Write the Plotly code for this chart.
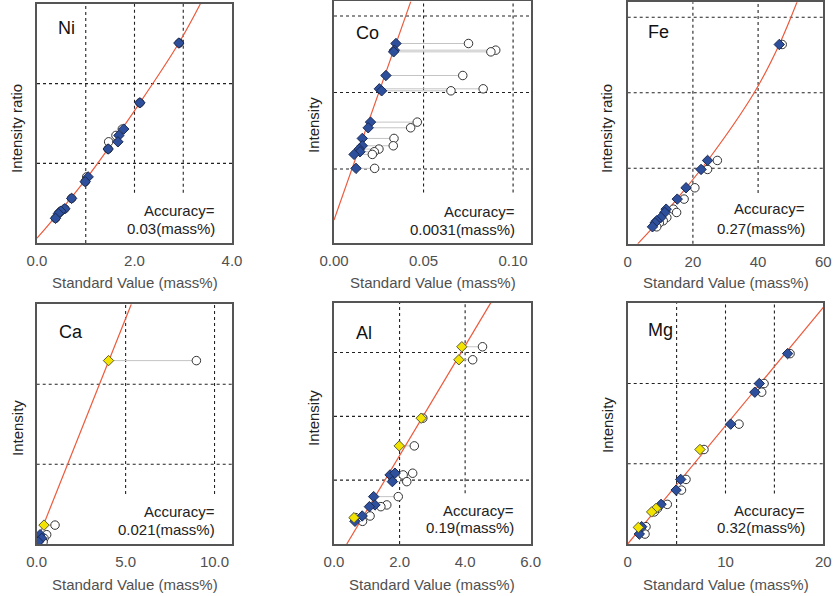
import plotly.graph_objects as go

W, H = 833, 596
FONT = "Arial, 'Liberation Sans', Helvetica, sans-serif"

# ---------------- data ----------------
# Ni
ni_corrected   = [2.91, 2.11, 1.78, 1.68, 1.66, 1.46, 1.05, 0.99, 0.71, 0.57, 0.49, 0.44, 0.38]
ni_uncorrected = [2.92, 2.11, 1.75, 1.62, 1.47, 1.46, 1.02, 0.99, 0.71, 0.57, 0.49, 0.44, 0.38]
ni_intensity   = [2.51, 1.76, 1.43, 1.35, 1.27, 1.18, 0.83, 0.77, 0.56, 0.43, 0.40, 0.37, 0.31]
ni_kind        = ["B"] * 13
ni_curve_x     = [0.0, 1.0, 2.11, 2.91, 3.35]
ni_curve_y     = [0.06, 0.80, 1.76, 2.51, 3.0]
ni_ticks       = [0, 2, 4]
ni_ticktext    = ["0.0", "2.0", "4.0"]
ni_accuracy    = "0.03(mass%)"

# Co
co_corrected   = [0.0346, 0.0337, 0.0333, 0.0290, 0.0253, 0.0266, 0.0204, 0.0191, 0.0158, 0.0158, 0.0141, 0.0145, 0.0112, 0.0123]
co_uncorrected = [0.0751, 0.0903, 0.0876, 0.0719, 0.0833, 0.0653, 0.0465, 0.0428, 0.0335, 0.0331, 0.0251, 0.0225, 0.0214, 0.0227]
co_intensity   = [2.640, 2.553, 2.531, 2.222, 2.048, 2.022, 1.613, 1.539, 1.400, 1.304, 1.261, 1.226, 1.191, 1.009]
co_kind        = ["B"] * 14
co_curve_x     = [0.0, 0.0429]
co_curve_y     = [0.335, 3.19]
co_ticks       = [0, 0.05, 0.10]
co_ticktext    = ["0.00", "0.05", "0.10"]
co_accuracy    = "0.0031(mass%)"

# Fe
fe_corrected   = [46.5, 24.5, 22.5, 17.9, 15.2, 11.8, 11.4, 10.2, 8.9, 8.4, 7.6]
fe_uncorrected = [47.4, 27.5, 24.5, 20.6, 17.3, 14.0, 15.0, 12.0, 10.9, 9.7, 8.9]
fe_intensity   = [2.64, 1.104, 0.985, 0.742, 0.592, 0.459, 0.415, 0.349, 0.305, 0.278, 0.225]
fe_kind        = ["B"] * 11
fe_curve_x     = [3.07, 7.4, 15.0, 24.5, 38.8, 46.5, 52.1]
fe_curve_y     = [0.0, 0.20, 0.59, 1.10, 2.0, 2.64, 3.22]
fe_ticks       = [0, 20, 40, 60]
fe_ticktext    = ["0", "20", "40", "60"]
fe_accuracy    = "0.27(mass%)"

# Ca
ca_corrected   = [4.04, 0.41, 0.19, 0.28, 0.09]
ca_uncorrected = [8.98, 1.03, 0.56, 0.41, 0.36]
ca_intensity   = [2.296, 0.24, 0.12, 0.075, 0.03]
ca_kind        = ["Y", "Y", "B", "B", "B"]
ca_curve_x     = [0.0, 5.32]
ca_curve_y     = [0.03, 3.0]
ca_ticks       = [0, 5, 10]
ca_ticktext    = ["0.0", "5.0", "10.0"]
ca_accuracy    = "0.021(mass%)"

# Al
al_corrected   = [3.90, 3.81, 2.66, 1.99, 0.61, 1.71, 1.86, 1.78, 1.21, 1.25, 1.08, 0.86, 0.64]
al_uncorrected = [4.53, 4.23, 2.71, 2.45, 0.66, 2.11, 2.40, 2.22, 1.96, 1.61, 1.43, 1.10, 0.87]
al_intensity   = [3.09, 2.886, 1.971, 1.537, 0.413, 1.082, 1.109, 0.977, 0.742, 0.612, 0.585, 0.439, 0.355]
al_kind        = ["Y"] * 5 + ["B"] * 8
al_curve_x     = [0.39, 4.79]
al_curve_y     = [0.0, 3.785]
al_ticks       = [0, 2, 4, 6]
al_ticktext    = ["0.0", "2.0", "4.0", "6.0"]
al_accuracy    = "0.19(mass%)"

# Mg
mg_corrected   = [16.35, 13.46, 13.0, 10.53, 5.42, 4.95, 3.41, 1.43, 1.19, 7.39, 2.90, 2.45, 1.09]
mg_uncorrected = [16.6, 13.94, 13.7, 11.38, 5.96, 5.50, 4.05, 1.87, 1.77, 7.80, 3.05, 2.72, 1.40]
mg_intensity   = [2.373, 2.0, 1.892, 1.494, 0.805, 0.672, 0.494, 0.216, 0.124, 1.178, 0.444, 0.40, 0.207]
mg_kind        = ["B"] * 9 + ["Y"] * 4
mg_curve_x     = [0.0, 20.0]
mg_curve_y     = [0.0, 2.95]
mg_ticks       = [0, 10, 20]
mg_ticktext    = ["0", "10", "20"]
mg_accuracy    = "0.32(mass%)"

# ---------------- layout description (pixel positions) ----------------
panels = [
    dict(name="Ni", corr=ni_corrected, unc=ni_uncorrected, inten=ni_intensity, kind=ni_kind,
         cx=ni_curve_x, cy=ni_curve_y, spline=True, box=(37, 232, 4, 243),
         xr=[0, 4], yr=[0, 3], tv=ni_ticks, tt=ni_ticktext, vfull=[1], vpart=[2, 3], hgrid=[1, 2],
         acc=ni_accuracy, ytitle="Intensity ratio", ytpos=(17, 129), lab=(56, 28), accpos=(217, 210, 228), xty=282),
    dict(name="Co", corr=co_corrected, unc=co_uncorrected, inten=co_intensity, kind=co_kind,
         cx=co_curve_x, cy=co_curve_y, spline=False, box=(334, 531, 1.4, 243.3),
         xr=[0, 0.11], yr=[0.03, 3.19], tv=co_ticks, tt=co_ticktext, vfull=[], vpart=[0.05, 0.10], hgrid=[1, 2, 3],
         acc=co_accuracy, ytitle="Intensity", ytpos=(313, 125), lab=(354, 33), accpos=(517, 211, 229), xty=282),
    dict(name="Fe", corr=fe_corrected, unc=fe_uncorrected, inten=fe_intensity, kind=fe_kind,
         cx=fe_curve_x, cy=fe_curve_y, spline=True, box=(627.7, 823.3, 2.2, 243.8),
         xr=[0, 60], yr=[0, 3.2], tv=fe_ticks, tt=fe_ticktext, vfull=[20], vpart=[40], hgrid=[1, 2, 3],
         acc=fe_accuracy, ytitle="Intensity ratio", ytpos=(607, 129), lab=(646, 32), accpos=(807, 209, 228), xty=282),
    dict(name="Ca", corr=ca_corrected, unc=ca_uncorrected, inten=ca_intensity, kind=ca_kind,
         cx=ca_curve_x, cy=ca_curve_y, spline=False, box=(36.7, 232.3, 304.3, 544.3),
         xr=[0, 11], yr=[0, 3], tv=ca_ticks, tt=ca_ticktext, vfull=[], vpart=[5, 10], hgrid=[1, 2],
         acc=ca_accuracy, ytitle="Intensity", ytpos=(17, 428), lab=(57, 332), accpos=(217, 511, 529), xty=584),
    dict(name="Al", corr=al_corrected, unc=al_uncorrected, inten=al_intensity, kind=al_kind,
         cx=al_curve_x, cy=al_curve_y, spline=False, box=(334, 530.7, 302.7, 544),
         xr=[0, 6], yr=[0, 3.78], tv=al_ticks, tt=al_ticktext, vfull=[2], vpart=[4], hgrid=[1, 2, 3],
         acc=al_accuracy, ytitle="Intensity", ytpos=(313, 418), lab=(354, 333), accpos=(516, 510, 527), xty=584),
    dict(name="Mg", corr=mg_corrected, unc=mg_uncorrected, inten=mg_intensity, kind=mg_kind,
         cx=mg_curve_x, cy=mg_curve_y, spline=False, box=(627.7, 823.3, 303.3, 544),
         xr=[0, 20], yr=[0, 3], tv=mg_ticks, tt=mg_ticktext, vfull=[5], vpart=[10, 15], hgrid=[1, 2],
         acc=mg_accuracy, ytitle="Intensity", ytpos=(607, 425), lab=(646, 330), accpos=(807, 510, 527), xty=584),
]

def px2x(px):
    return px / W

def px2y(py):
    return 1 - py / H

BLUE = "#2d4f9c"
BLUE_LINE = "#1b2b55"
YELLOW = "#f3e300"
YELLOW_LINE = "#5a5a30"
RED = "#ec5a3c"
GRID = "#222222"
FRAME = "#555555"

fig = go.Figure()
shapes = []
annotations = []
layout = {}

for i, p in enumerate(panels):
    sx = "" if i == 0 else str(i + 1)
    xa, ya = "x" + sx, "y" + sx
    L, R, T, B = p["box"]

    layout["xaxis" + sx] = dict(
        domain=[px2x(L), px2x(R)], range=p["xr"], anchor=ya, automargin=False,
        tickvals=p["tv"], ticktext=p["tt"], ticks="outside", ticklen=3,
        tickcolor="rgba(0,0,0,0)", tickfont=dict(family=FONT, size=15, color="#505050"),
        showgrid=False, zeroline=False, showline=True, mirror=True,
        linecolor=FRAME, linewidth=1.5, fixedrange=True)
    layout["yaxis" + sx] = dict(
        domain=[px2y(B), px2y(T)], range=p["yr"], anchor=xa, automargin=False,
        showticklabels=False, ticks="", showgrid=False, zeroline=False,
        showline=True, mirror=True, linecolor=FRAME, linewidth=1.5, fixedrange=True)

    # grid lines
    for gv in p["hgrid"]:
        shapes.append(dict(type="line", xref=xa + " domain", yref=ya, x0=0, x1=1, y0=gv, y1=gv,
                           line=dict(color=GRID, width=1.1, dash="3px,3px"), layer="below"))
    for gv in p["vfull"]:
        shapes.append(dict(type="line", xref=xa, yref=ya + " domain", x0=gv, x1=gv, y0=0, y1=1,
                           line=dict(color=GRID, width=1.1, dash="3px,3px"), layer="below"))
    for gv in p["vpart"]:
        shapes.append(dict(type="line", xref=xa, yref=ya + " domain", x0=gv, x1=gv, y0=0.21, y1=1,
                           line=dict(color=GRID, width=1.1, dash="3px,3px"), layer="below"))

    # connectors
    lx, ly = [], []
    for c, u, y in zip(p["corr"], p["unc"], p["inten"]):
        lx += [c, u, None]
        ly += [y, y, None]
    fig.add_trace(go.Scatter(x=lx, y=ly, mode="lines", xaxis=xa, yaxis=ya,
                             line=dict(color="#c4c4c4", width=1), hoverinfo="skip"))
    # calibration curve
    fig.add_trace(go.Scatter(x=p["cx"], y=p["cy"], mode="lines", xaxis=xa, yaxis=ya,
                             line=dict(color=RED, width=1.2, shape="spline" if p["spline"] else "linear"),
                             hoverinfo="skip"))
    # uncorrected (open circles)
    fig.add_trace(go.Scatter(x=p["unc"], y=p["inten"], mode="markers", xaxis=xa, yaxis=ya,
                             marker=dict(symbol="circle", size=8.5, color="white",
                                         line=dict(color="#333333", width=1))))
    # corrected (diamonds)
    bx = [c for c, k in zip(p["corr"], p["kind"]) if k == "B"]
    by = [y for y, k in zip(p["inten"], p["kind"]) if k == "B"]
    yx = [c for c, k in zip(p["corr"], p["kind"]) if k == "Y"]
    yy = [y for y, k in zip(p["inten"], p["kind"]) if k == "Y"]
    if bx:
        fig.add_trace(go.Scatter(x=bx, y=by, mode="markers", xaxis=xa, yaxis=ya,
                                 marker=dict(symbol="diamond", size=8, color=BLUE,
                                             line=dict(color=BLUE_LINE, width=1))))
    if yx:
        fig.add_trace(go.Scatter(x=yx, y=yy, mode="markers", xaxis=xa, yaxis=ya,
                                 marker=dict(symbol="diamond", size=8, color=YELLOW,
                                             line=dict(color=YELLOW_LINE, width=1))))

    # texts
    annotations.append(dict(text=p["name"], x=px2x(p["lab"][0]), y=px2y(p["lab"][1]),
                            xref="paper", yref="paper", xanchor="left", yanchor="middle",
                            showarrow=False, font=dict(family=FONT, size=18, color="#111111")))
    ax_, a1, a2 = p["accpos"]
    annotations.append(dict(text="Accuracy=", x=px2x(ax_), y=px2y(a1), xref="paper", yref="paper",
                            xanchor="right", yanchor="middle", showarrow=False,
                            font=dict(family=FONT, size=15, color="#222222")))
    annotations.append(dict(text=p["acc"], x=px2x(ax_), y=px2y(a2), xref="paper", yref="paper",
                            xanchor="right", yanchor="middle", showarrow=False,
                            font=dict(family=FONT, size=15, color="#222222")))
    annotations.append(dict(text="Standard Value (mass%)", x=px2x((L + R) / 2), y=px2y(p["xty"]),
                            xref="paper", yref="paper", xanchor="center", yanchor="middle",
                            showarrow=False, font=dict(family=FONT, size=15, color="#505050")))
    annotations.append(dict(text=p["ytitle"], x=px2x(p["ytpos"][0]), y=px2y(p["ytpos"][1]),
                            xref="paper", yref="paper", xanchor="center", yanchor="middle",
                            textangle=-90, showarrow=False,
                            font=dict(family=FONT, size=15, color="#222222")))

fig.update_layout(width=W, height=H, autosize=False, margin=dict(l=0, r=0, t=0, b=0),
                  paper_bgcolor="white", plot_bgcolor="white", showlegend=False,
                  shapes=shapes, annotations=annotations, hovermode=False, **layout)

# remove the browser's default page margin so the figure sits at the window origin
fig.write_html("out.html", config={"displayModeBar": False},
               post_script="document.body.style.margin='0px';")
